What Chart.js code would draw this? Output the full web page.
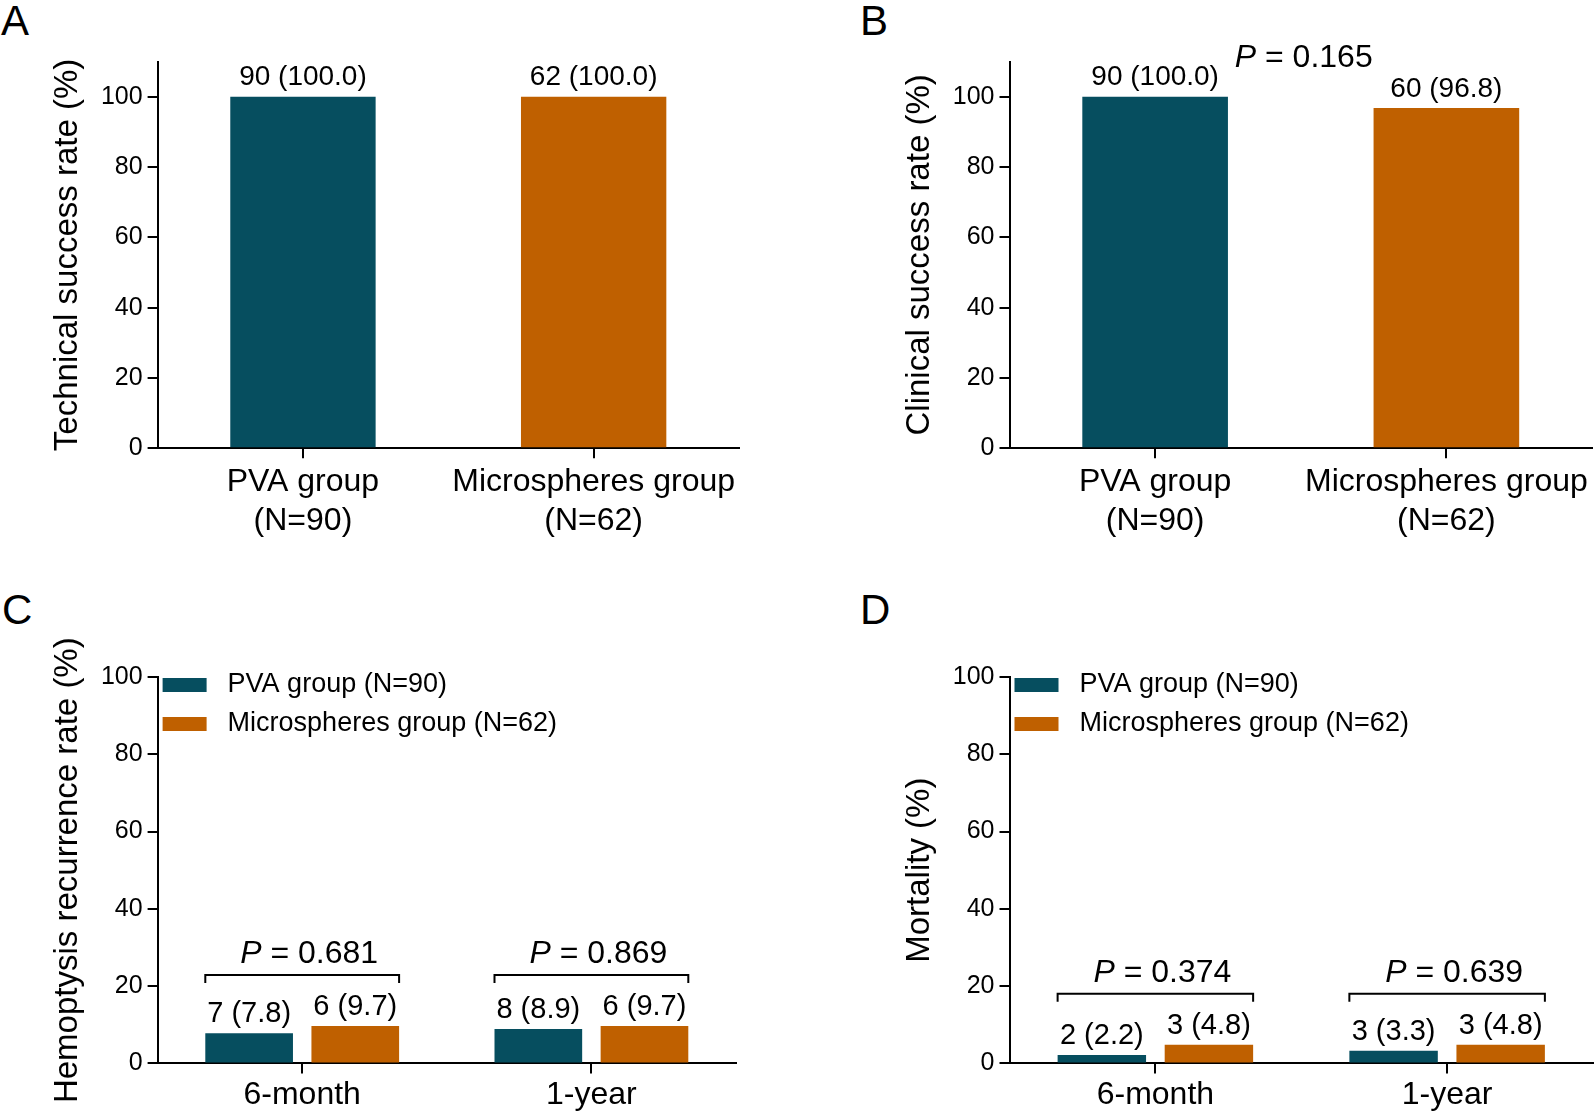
<!DOCTYPE html>
<html>
<head>
<meta charset="utf-8">
<script src="https://cdn.jsdelivr.net/npm/chart.js@4.4.1/dist/chart.umd.min.js"></script>
<style>
  body { margin: 0; background: #fff; width: 1594px; height: 1118px; position: relative; overflow: hidden;
         font-family: 'Liberation Sans', Arial, sans-serif; }
  .panel { position: absolute; }
  .tag { position: absolute; font-size: 42px; line-height: 42px; color: #000; }
</style>
</head>
<body>
<div class="tag" style="left:1px;top:0">A</div>
<div class="tag" style="left:860px;top:0">B</div>
<div class="tag" style="left:2px;top:589px">C</div>
<div class="tag" style="left:860px;top:589px">D</div>

<div class="panel" style="left:0;top:0;width:797px;height:559px"><canvas id="chartA"></canvas></div>
<div class="panel" style="left:852px;top:0;width:742px;height:559px"><canvas id="chartB"></canvas></div>
<div class="panel" style="left:0;top:559px;width:797px;height:559px"><canvas id="chartC"></canvas></div>
<div class="panel" style="left:852px;top:559px;width:742px;height:559px"><canvas id="chartD"></canvas></div>

<script>
// data
const groupLabels = [['PVA group', '(N=90)'], ['Microspheres group', '(N=62)']];
const technicalRate = [100, 100];
const technicalCount = [90, 62];
const clinicalRate = [100, 96.8];
const clinicalCount = [90, 60];
const clinicalP = '0.165';

const followUp = ['6-month', '1-year'];
const seriesNames = ['PVA group (N=90)', 'Microspheres group (N=62)'];
const recurPVA = [7.8, 8.9];
const recurPVACount = [7, 8];
const recurMicro = [9.7, 9.7];
const recurMicroCount = [6, 6];
const recurP = ['0.681', '0.869'];
const deathPVA = [2.2, 3.3];
const deathPVACount = [2, 3];
const deathMicro = [4.8, 4.8];
const deathMicroCount = [3, 3];
const deathP = ['0.374', '0.639'];

const colors = ['#064e5f', '#bf6000'];
const FONT = "'Liberation Sans', Arial, sans-serif";

Chart.defaults.font.family = FONT;
Chart.defaults.color = '#000';

function drawP(ctx, x, y, value) {
    ctx.font = 'italic 32px ' + FONT;
    const wP = ctx.measureText('P').width;
    ctx.font = '32px ' + FONT;
    const rest = ' = ' + value;
    const wRest = ctx.measureText(rest).width;
    const start = x - (wP + wRest) / 2;
    ctx.textAlign = 'left';
    ctx.textBaseline = 'middle';
    ctx.font = 'italic 32px ' + FONT;
    ctx.fillText('P', start, y);
    ctx.font = '32px ' + FONT;
    ctx.fillText(rest, start + wP, y);
}

// value labels, brackets with P values, legend
const annotate = {
    id: 'annotate',
    afterDatasetsDraw(chart, args, opts) {
        const ctx = chart.ctx;
        const area = chart.chartArea;
        ctx.save();
        ctx.fillStyle = '#000';
        ctx.strokeStyle = '#000';

        chart.data.datasets.forEach((ds, i) => {
            const meta = chart.getDatasetMeta(i);
            meta.data.forEach((bar, j) => {
                ctx.font = opts.labelSize + 'px ' + FONT;
                ctx.textAlign = 'center';
                ctx.textBaseline = 'middle';
                ctx.fillText(opts.counts[i][j] + ' (' + ds.data[j].toFixed(1) + ')', bar.x, bar.y - 19);
            });
        });

        if (opts.pairP) {
            const m0 = chart.getDatasetMeta(0).data;
            const m1 = chart.getDatasetMeta(1).data;
            opts.pairP.forEach((p, j) => {
                const left = m0[j].x - m0[j].width / 2;
                const right = m1[j].x + m1[j].width / 2;
                const top = Math.min(m0[j].y, m1[j].y) - 51;
                ctx.lineWidth = 2;
                ctx.beginPath();
                ctx.moveTo(left, top + 8);
                ctx.lineTo(left, top);
                ctx.lineTo(right, top);
                ctx.lineTo(right, top + 8);
                ctx.stroke();
                drawP(ctx, (left + right) / 2 + 7, top - 21, p);
            });
        }

        if (opts.middleP) {
            const bars = chart.getDatasetMeta(0).data;
            drawP(ctx, (bars[0].x + bars[bars.length - 1].x) / 2 + 3, area.top - 3, opts.middleP);
        }

        if (opts.legend) {
            chart.data.datasets.forEach((ds, i) => {
                const cy = area.top + 8 + i * 39;
                ctx.fillStyle = ds.backgroundColor;
                ctx.fillRect(area.left + 5, cy - 7, 44, 14);
                ctx.fillStyle = '#000';
                ctx.font = '27px ' + FONT;
                ctx.textAlign = 'left';
                ctx.textBaseline = 'middle';
                ctx.fillText(ds.label, area.left + 70, cy);
            });
        }
        ctx.restore();
    }
};

function yScale(max, title, width) {
    return {
        min: 0,
        max: max,
        ticks: { stepSize: 20, color: '#000', font: { size: 25 }, padding: 5 },
        afterBuildTicks: s => { s.ticks = s.ticks.filter(t => t.value <= 100); },
        grid: { drawOnChartArea: false, tickLength: 10, color: '#000', lineWidth: 2 },
        border: { display: true, color: '#000', width: 2 },
        title: { display: true, text: title, color: '#000', font: { size: 33 }, padding: { top: 48 } },
        afterFit: s => { s.width = width; }
    };
}

function xScale(height, pad) {
    return {
        ticks: { color: '#000', font: { size: 32 }, padding: pad, maxRotation: 0 },
        grid: { drawOnChartArea: false, offset: false, tickLength: 10, color: '#000', lineWidth: 2 },
        border: { display: true, color: '#000', width: 2 },
        afterFit: s => { s.height = height; }
    };
}

function makeChart(id, cfg) {
    return new Chart(document.getElementById(id), {
        type: 'bar',
        data: { labels: cfg.labels, datasets: cfg.datasets },
        options: {
            responsive: true,
            maintainAspectRatio: false,
            animation: false,
            layout: { padding: cfg.padding },
            scales: { x: cfg.x, y: cfg.y },
            plugins: {
                legend: { display: false },
                tooltip: { enabled: false },
                annotate: cfg.annotate
            }
        },
        plugins: [annotate]
    });
}

makeChart('chartA', {
    labels: groupLabels,
    datasets: [{ data: technicalRate, backgroundColor: colors, barPercentage: 0.5, categoryPercentage: 1 }],
    padding: { top: 61.5, right: 58, left: 0, bottom: 0 },
    x: xScale(110.7, 5),
    y: yScale(110, 'Technical success rate (%)', 157.6),
    annotate: { counts: [technicalCount], labelSize: 28 }
});

makeChart('chartB', {
    labels: groupLabels,
    datasets: [{ data: clinicalRate, backgroundColor: colors, barPercentage: 0.5, categoryPercentage: 1 }],
    padding: { top: 61.5, right: 2, left: 0, bottom: 0 },
    x: xScale(110.7, 5),
    y: yScale(110, 'Clinical success rate (%)', 157.5),
    annotate: { counts: [clinicalCount], labelSize: 28, middleP: clinicalP }
});

makeChart('chartC', {
    labels: followUp,
    datasets: [
        { label: seriesNames[0], data: recurPVA, backgroundColor: colors[0], barPercentage: 0.826, categoryPercentage: 0.734 },
        { label: seriesNames[1], data: recurMicro, backgroundColor: colors[1], barPercentage: 0.826, categoryPercentage: 0.734 }
    ],
    padding: { top: 118, right: 61, left: 0, bottom: 0 },
    x: xScale(54.6, 3),
    y: yScale(100, 'Hemoptysis recurrence rate (%)', 157.6),
    annotate: { counts: [recurPVACount, recurMicroCount], labelSize: 29, pairP: recurP, legend: true }
});

makeChart('chartD', {
    labels: followUp,
    datasets: [
        { label: seriesNames[0], data: deathPVA, backgroundColor: colors[0], barPercentage: 0.826, categoryPercentage: 0.734 },
        { label: seriesNames[1], data: deathMicro, backgroundColor: colors[1], barPercentage: 0.826, categoryPercentage: 0.734 }
    ],
    padding: { top: 118, right: 1, left: 0, bottom: 0 },
    x: xScale(54.6, 3),
    y: yScale(100, 'Mortality (%)', 157.5),
    annotate: { counts: [deathPVACount, deathMicroCount], labelSize: 29, pairP: deathP, legend: true }
});
</script>
</body>
</html>
